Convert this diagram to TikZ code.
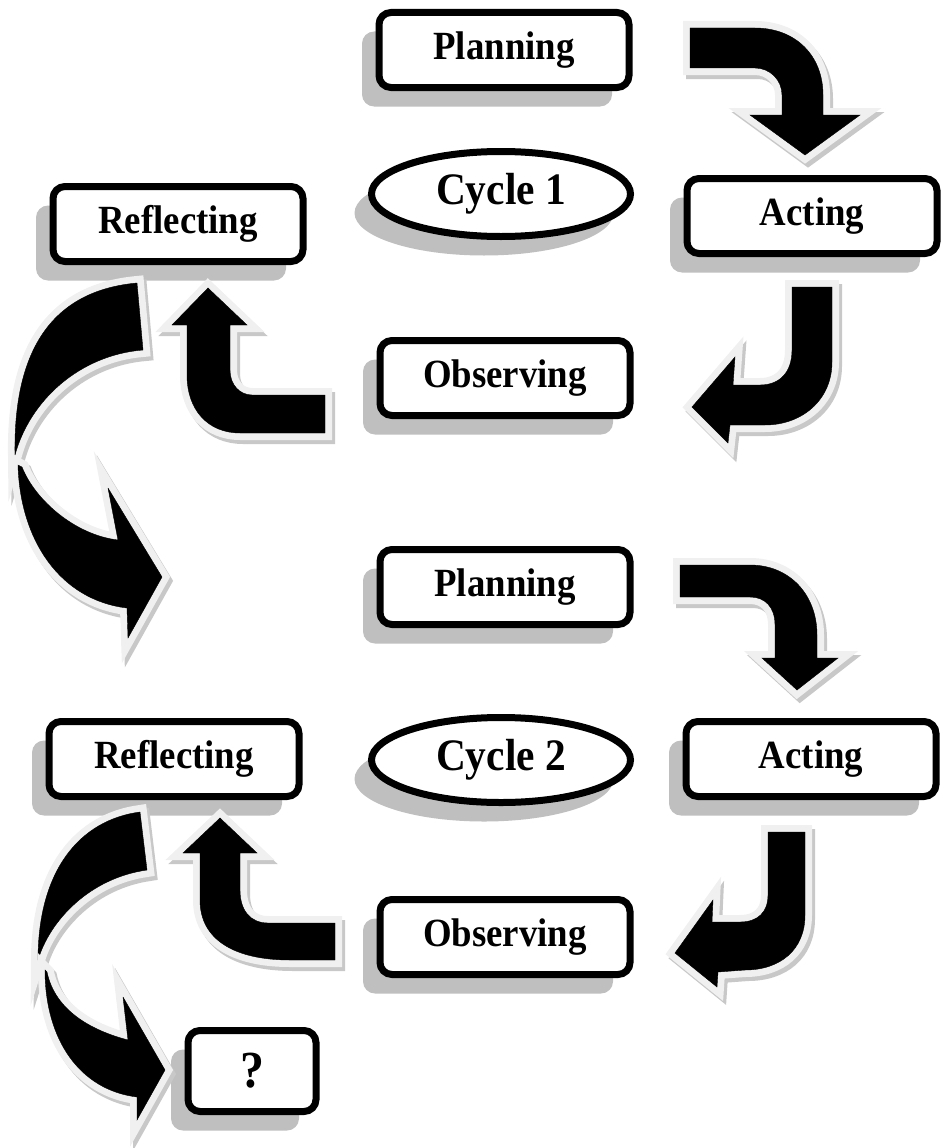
\documentclass[tikz,border=0pt]{standalone}
\usepackage{fontspec}
\setmainfont{Liberation Serif}[FakeStretch=0.92]
\usetikzlibrary{shapes.geometric,shadows}
\definecolor{schatten}{RGB}{191,191,191}
\definecolor{rand}{RGB}{240,240,240}
\definecolor{pfeilschatten}{RGB}{200,200,200}
\tikzset{
	phase/.style={draw, line width=7pt, rounded corners=12pt, fill=white,
		minimum width=250pt, minimum height=75pt, inner sep=0pt,
		font=\fontsize{40}{48}\selectfont\bfseries,
		general shadow={fill=schatten, shadow xshift=-17pt, shadow yshift=-19pt}},
	zyklus/.style={phase, ellipse, sharp corners, minimum width=259pt, minimum height=85pt,
		font=\fontsize{45}{52}\selectfont\bfseries},
	blockpfeil/.style={fill=black, line join=miter, miter limit=4,
		preaction={draw=pfeilschatten, fill=pfeilschatten, line width=14pt,
			transform canvas={shift={(3pt,-4pt)}}},
		preaction={draw=rand, line width=14pt}}
}
\begin{document}
\begin{tikzpicture}[x=1pt, y=-1pt]
		\useasboundingbox (0, 0) rectangle (941, 1148);
		% Zyklus 1
		\begin{scope}
			\node (plan1) [phase] at (504, 50) {Planning};
			\node (act1) [phase] at (812, 216) {Acting};
			\node (refl1) [phase] at (178, 224) {Reflecting};
			\node (cyc1) [zyklus] at (501, 194) {Cycle 1};
			\node (obs1) [phase] at (505, 378) {Observing};
		\end{scope}
		% Zyklus 2
		\begin{scope}
			\node (plan2) [phase] at (505, 587) {Planning};
			\node (act2) [phase] at (811, 759) {Acting};
			\node (refl2) [phase] at (174, 759) {Reflecting};
			\node (cyc2) [zyklus] at (501, 760) {Cycle 2};
			\node (obs2) [phase] at (505, 937) {Observing};
			\node (next) [phase, minimum width=128pt, minimum height=81pt,
				font=\fontsize{52}{60}\selectfont\bfseries] at (252, 1071) {?};
		\end{scope}
		% Pfeile Zyklus 1
		\draw [blockpfeil] (690, 28) -- (755, 28) .. controls (795, 28) and (823, 55) .. (823, 95)
			-- (823, 115) -- (860, 115) -- (805, 155) -- (750, 115) -- (782, 115) -- (782, 95)
			.. controls (782, 80) and (770, 68) .. (755, 68) -- (690, 68) -- cycle;
		\draw [blockpfeil] (792, 287) -- (832, 287) -- (832, 362) .. controls (832, 400) and (802, 425) .. (765, 425)
			-- (730, 425) -- (728, 443) -- (692, 407) -- (735, 357) -- (733, 385) -- (760, 385)
			.. controls (780, 385) and (792, 372) .. (792, 350) -- cycle;
		\draw [blockpfeil] (325, 395) -- (325, 433) -- (240, 433) .. controls (208, 433) and (187, 410) .. (187, 375)
			-- (187, 325) -- (172, 325) -- (208, 288) -- (247, 325) -- (230, 325) -- (230, 370)
			.. controls (230, 385) and (240, 395) .. (252, 395) -- cycle;
		% Uebergang zu Zyklus 2
		\draw [blockpfeil] (137, 283) .. controls (60, 290) and (13, 340) .. (15, 455)
			.. controls (30, 400) and (80, 355) .. (143, 350) -- cycle;
		\draw [blockpfeil] (18, 465) .. controls (20, 540) and (60, 600) .. (127, 608) -- (128, 638)
			-- (162, 577) -- (108, 488) -- (118, 540) .. controls (75, 535) and (35, 500) .. (22, 467) -- cycle;
		% Pfeile Zyklus 2
		\draw [blockpfeil] (680, 565) -- (750, 565) .. controls (790, 565) and (817, 595) .. (817, 635)
			-- (817, 658) -- (838, 658) -- (797, 690) -- (762, 658) -- (775, 658) -- (775, 625)
			.. controls (775, 607) and (765, 597) .. (750, 597) -- (680, 597) -- cycle;
		\draw [blockpfeil] (768, 832) -- (805, 832) -- (805, 915) .. controls (805, 950) and (780, 970) .. (745, 970)
			-- (718, 972) -- (717, 987) -- (675, 953) -- (713, 900) -- (712, 922) -- (740, 922)
			.. controls (758, 922) and (768, 912) .. (768, 895) -- cycle;
		\draw [blockpfeil] (335, 923) -- (335, 960) -- (290, 960) .. controls (235, 960) and (200, 940) .. (200, 900)
			-- (200, 853) -- (183, 853) -- (220, 818) -- (257, 853) -- (240, 853) -- (240, 890)
			.. controls (240, 910) and (250, 923) .. (268, 923) -- cycle;
		% Uebergang zum naechsten Schritt
		\draw [blockpfeil] (140, 812) .. controls (80, 820) and (38, 870) .. (38, 960)
			.. controls (50, 920) and (90, 878) .. (147, 870) -- cycle;
		\draw [blockpfeil] (45, 970) .. controls (45, 1040) and (80, 1090) .. (137, 1097) -- (137, 1120)
			-- (165, 1070) -- (123, 997) -- (128, 1040) .. controls (90, 1030) and (55, 1010) .. (47, 972) -- cycle;
	\end{tikzpicture}
\end{document}
